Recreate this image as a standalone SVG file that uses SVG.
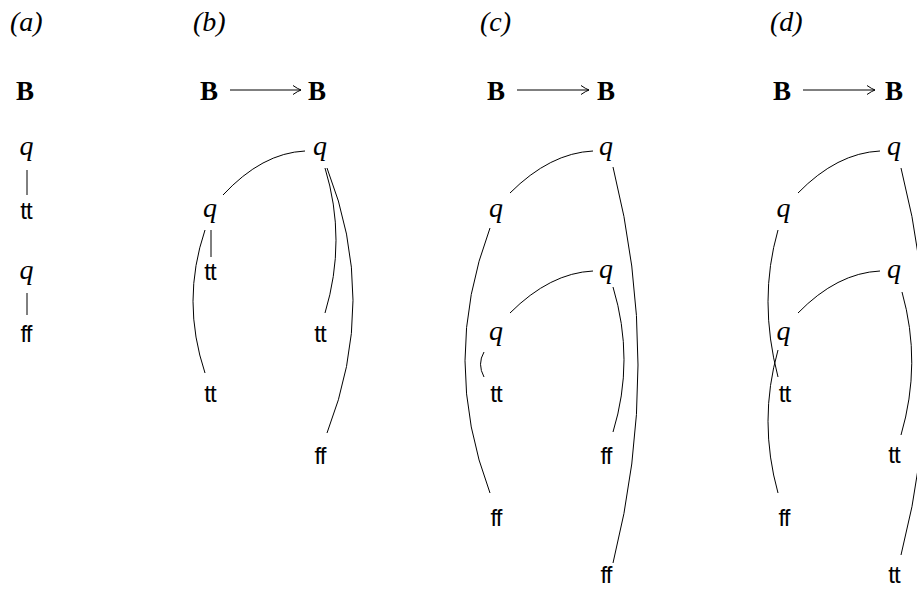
<svg xmlns="http://www.w3.org/2000/svg" width="917" height="589" viewBox="0 0 917 589">
<style>
.lbl{font-family:"Liberation Serif",serif;font-style:italic;font-size:28px}
.B{font-family:"Liberation Serif",serif;font-weight:bold;font-size:27px;text-anchor:middle}
.q{font-family:"Liberation Serif",serif;font-style:italic;font-size:28px;text-anchor:middle}
.sf{font-family:"Liberation Sans",sans-serif;font-size:24px;text-anchor:middle;letter-spacing:-1px}
.c{fill:none;stroke:#000;stroke-width:1}
</style>
<defs>
<marker id="to" markerUnits="userSpaceOnUse" markerWidth="12" markerHeight="12" viewBox="-9 -6 12 12" refX="0" refY="0" orient="auto">
<path d="M-8,-4.5 Q-3,-1 0,0 Q-3,1 -8,4.5" fill="none" stroke="#000" stroke-width="1"/>
</marker>
</defs>
<rect width="917" height="589" fill="#fff"/>
<g id="labels">
<text class="lbl" x="10" y="31">(a)</text>
<text class="lbl" x="193" y="31">(b)</text>
<text class="lbl" x="480" y="31">(c)</text>
<text class="lbl" x="770" y="31">(d)</text>
</g>
<g id="a-B"><text class="B" x="25" y="100">B</text></g>
<g id="a-q1"><text class="q" x="26.5" y="155">q</text></g>
<g id="a-tt"><text class="sf" x="26" y="219">tt</text></g>
<g id="a-q2"><text class="q" x="26.5" y="279">q</text></g>
<g id="a-ff"><text class="sf" x="26" y="342">ff</text></g>
<g id="b-B1"><text class="B" x="209" y="100">B</text></g>
<g id="b-B2"><text class="B" x="317" y="100">B</text></g>
<g id="b-q1"><text class="q" x="320" y="155">q</text></g>
<g id="b-q2"><text class="q" x="210" y="216.5">q</text></g>
<g id="b-tt1"><text class="sf" x="210" y="280">tt</text></g>
<g id="b-tt2"><text class="sf" x="320" y="341.5">tt</text></g>
<g id="b-tt3"><text class="sf" x="210" y="402">tt</text></g>
<g id="b-ff"><text class="sf" x="320" y="464">ff</text></g>
<g id="c-B1"><text class="B" x="496" y="100">B</text></g>
<g id="c-B2"><text class="B" x="606" y="100">B</text></g>
<g id="c-q1"><text class="q" x="606" y="155">q</text></g>
<g id="c-q2"><text class="q" x="496" y="216.5">q</text></g>
<g id="c-q3"><text class="q" x="606" y="278">q</text></g>
<g id="c-q4"><text class="q" x="496" y="339.5">q</text></g>
<g id="c-tt"><text class="sf" x="496" y="402">tt</text></g>
<g id="c-ff1"><text class="sf" x="606" y="464">ff</text></g>
<g id="c-ff2"><text class="sf" x="496" y="526">ff</text></g>
<g id="c-ff3"><text class="sf" x="606" y="583">ff</text></g>
<g id="d-B1"><text class="B" x="782" y="100">B</text></g>
<g id="d-B2"><text class="B" x="894" y="100">B</text></g>
<g id="d-q1"><text class="q" x="894" y="155">q</text></g>
<g id="d-q2"><text class="q" x="783.5" y="216.5">q</text></g>
<g id="d-q3"><text class="q" x="894" y="278">q</text></g>
<g id="d-q4"><text class="q" x="783.5" y="339.5">q</text></g>
<g id="d-tt1"><text class="sf" x="784.5" y="402">tt</text></g>
<g id="d-ff"><text class="sf" x="784" y="526">ff</text></g>
<g id="d-tt2"><text class="sf" x="894" y="463">tt</text></g>
<g id="d-tt3"><text class="sf" x="894" y="583">tt</text></g>
<g id="connectors" class="c">
<path class="c" d="M27,170 L27,195"/>
<path class="c" d="M27,293 L27,315"/>
<path class="c" d="M230,90 L301,90" marker-end="url(#to)"/>
<path class="c" d="M305,151 Q262,153 223,195"/>
<path class="c" d="M211,230 L211,257"/>
<path class="c" d="M205,230 Q181,301 205,373"/>
<path class="c" d="M325,168 Q347,240 325,313"/>
<path class="c" d="M327,168 Q379,300 327,433"/>
<path class="c" d="M517,90 L589,90" marker-end="url(#to)"/>
<path class="c" d="M593,151 Q550,153 510,193"/>
<path class="c" d="M593,271 Q550,273 510,313"/>
<path class="c" d="M490,228 Q440,361 490,493"/>
<path class="c" d="M484,352 Q477,364 484,377"/>
<path class="c" d="M613,287 Q635,360 613,432"/>
<path class="c" d="M613,167 Q663,365 613,563"/>
<path class="c" d="M803,90 L875,90" marker-end="url(#to)"/>
<path class="c" d="M880,151 Q837,153 798,193"/>
<path class="c" d="M880,271 Q837,273 798,313"/>
<path class="c" d="M778,230 Q758,300 778,377"/>
<path class="c" d="M778,350 Q758,421 778,493"/>
<path class="c" d="M901,168 Q951,362 901,555"/>
<path class="c" d="M902,292 Q922,363 901,435"/>
</g>
</svg>
